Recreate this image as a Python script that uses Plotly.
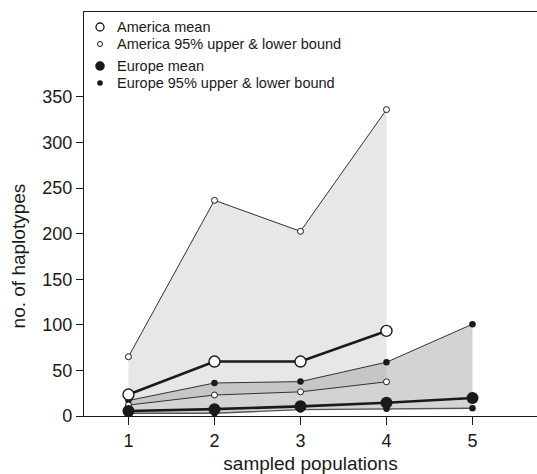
import plotly.graph_objects as go

# ---- data ----
populations = [1, 2, 3, 4, 5]
america_x = [1, 2, 3, 4]
america_mean = [23.5, 59.7, 59.7, 93.3]
america_upper = [65, 236.5, 202.5, 336]
america_lower = [12, 23, 26.5, 37.5]
europe_mean = [5.5, 7.5, 10.6, 14.5, 19.7]
europe_upper = [17, 36.2, 37.7, 59, 100.7]
europe_lower = [3, 3, 7, 8, 8.5]
y_ticks = [0, 50, 100, 150, 200, 250, 300, 350]
legend_labels = ["America mean", "America 95% upper & lower bound",
                 "Europe mean", "Europe 95% upper & lower bound"]

FONT = "Liberation Sans, Arial, Helvetica, sans-serif"
INK = "#1a1a1a"

fig = go.Figure()

# bands
fig.add_trace(go.Scatter(x=america_x, y=america_lower, mode="lines",
                         line=dict(width=0), showlegend=False, hoverinfo="skip"))
fig.add_trace(go.Scatter(x=america_x, y=america_upper, mode="lines", fill="tonexty",
                         fillcolor="rgb(230,231,232)", line=dict(width=0),
                         showlegend=False, hoverinfo="skip"))
fig.add_trace(go.Scatter(x=populations, y=europe_lower, mode="lines",
                         line=dict(width=0), showlegend=False, hoverinfo="skip"))
fig.add_trace(go.Scatter(x=populations, y=europe_upper, mode="lines", fill="tonexty",
                         fillcolor="rgba(160,162,165,0.48)", line=dict(width=0),
                         showlegend=False, hoverinfo="skip"))

open_small = dict(symbol="circle", size=6, color="white", line=dict(color=INK, width=1))
open_big = dict(symbol="circle", size=11, color="white", line=dict(color=INK, width=1.4))
dot_small = dict(symbol="circle", size=6.5, color=INK, line=dict(width=0))
dot_big = dict(symbol="circle", size=12, color=INK, line=dict(width=0))

# Europe lower/upper
fig.add_trace(go.Scatter(x=populations, y=europe_lower, mode="lines+markers",
                         line=dict(color="#555555", width=1.4), marker=dot_small,
                         cliponaxis=False, showlegend=False))
fig.add_trace(go.Scatter(x=populations, y=europe_upper, mode="lines+markers",
                         line=dict(color="#333333", width=1), marker=dot_small,
                         cliponaxis=False, showlegend=False))
# America lower/upper
fig.add_trace(go.Scatter(x=america_x, y=america_lower, mode="lines+markers",
                         line=dict(color="#333333", width=1), marker=open_small,
                         cliponaxis=False, showlegend=False))
fig.add_trace(go.Scatter(x=america_x, y=america_upper, mode="lines+markers",
                         line=dict(color="#333333", width=1), marker=open_small,
                         cliponaxis=False, showlegend=False))
# means
fig.add_trace(go.Scatter(x=populations, y=europe_mean, mode="lines+markers",
                         line=dict(color=INK, width=2.6), marker=dot_big,
                         cliponaxis=False, showlegend=False))
fig.add_trace(go.Scatter(x=america_x, y=america_mean, mode="lines+markers",
                         line=dict(color=INK, width=2.6), marker=open_big,
                         cliponaxis=False, showlegend=False))

# ---- manual legend (pixel placement inside plot) ----
L, T, W, H = 84, 12, 453, 404
def px(xp):
    return (xp - L) / W
def py(yp):
    return 1 - (yp - T) / H

legend_rows = [27, 44, 66, 83]
legend_sym = [(8, "white", 1.3), (5, "white", 1.0), (9.5, INK, 0), (5.5, INK, 0)]
shapes = []
annotations = []
for row, (d, fc, lw), lab in zip(legend_rows, legend_sym, legend_labels):
    shapes.append(dict(type="circle", xref="paper", yref="paper",
                       xsizemode="pixel", ysizemode="pixel",
                       xanchor=px(100), yanchor=py(row),
                       x0=-d / 2, x1=d / 2, y0=-d / 2, y1=d / 2,
                       fillcolor=fc, line=dict(color=INK, width=lw if lw else 0.1)))
    annotations.append(dict(xref="paper", yref="paper", x=px(115), y=py(row),
                            xanchor="left", yanchor="middle", showarrow=False,
                            text=lab, font=dict(family=FONT, size=14.5, color=INK)))

# y-axis title centred on the 0-350 span
annotations.append(dict(xref="paper", yref="y", x=0, y=175, xshift=-66,
                        xanchor="center", yanchor="middle", showarrow=False,
                        textangle=-90, text="no. of haplotypes",
                        font=dict(family=FONT, size=19, color=INK)))

fig.update_layout(
    width=537, height=474,
    margin=dict(l=L, r=0, t=T, b=474 - T - H),
    paper_bgcolor="white", plot_bgcolor="white",
    shapes=shapes, annotations=annotations,
    showlegend=False,
    font=dict(family=FONT, color=INK),
    xaxis=dict(range=[0.483, 5.75], tickvals=populations, ticks="outside",
               ticklen=8, tickwidth=1.3, tickcolor=INK, showgrid=False,
               zeroline=False, showline=True, linecolor=INK, linewidth=1.3,
               mirror=True, tickfont=dict(family=FONT, size=18, color=INK),
               title=dict(text="sampled populations", standoff=8,
                          font=dict(family=FONT, size=19, color=INK))),
    yaxis=dict(range=[0, 443], tickvals=y_ticks, ticks="outside",
               ticklen=7, tickwidth=1.3, tickcolor=INK, showgrid=False,
               zeroline=False, showline=True, linecolor=INK, linewidth=1.3,
               tickfont=dict(family=FONT, size=18, color=INK)),
)

fig.write_html("out.html")
